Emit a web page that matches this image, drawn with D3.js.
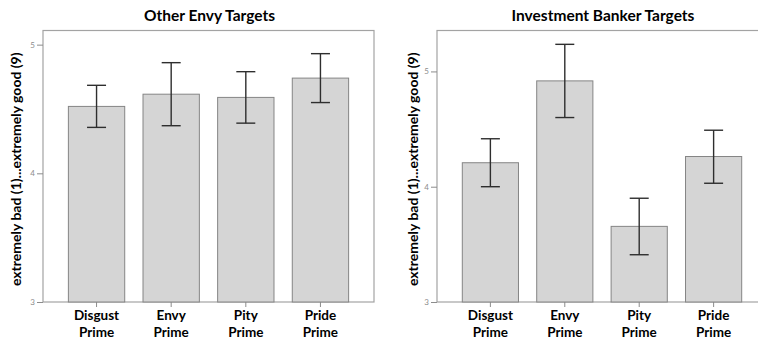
<!DOCTYPE html>
<html>
<head>
<meta charset="utf-8">
<script src="https://cdn.jsdelivr.net/npm/d3@7"></script>
<style>
  body { margin: 0; background: #fff; }
  text { font-family: Lato, "Open Sans", sans-serif; }
</style>
</head>
<body>
<div id="chart"></div>
<script>
let width = 758;
let height = 343;

// data
let primes = ["Disgust Prime", "Envy Prime", "Pity Prime", "Pride Prime"];
let yTicks = [3, 4, 5];

let otherMeans = [4.52, 4.615, 4.59, 4.74];
let otherLow = [4.357, 4.37, 4.39, 4.55];
let otherHigh = [4.684, 4.86, 4.79, 4.93];

let bankerMeans = [4.208, 4.918, 3.656, 4.262];
let bankerLow = [4.0, 4.6, 3.41, 4.03];
let bankerHigh = [4.416, 5.235, 3.90, 4.49];

// Colors
let colorBar = '#d5d5d5';
let colorBarEdge = '#858585';
let colorFrame = '#a3a3a3';
let colorErr = '#2e2e2e';
let colorTick = '#8c8c8c';

let panels = [
    { title: "Other Envy Targets", means: otherMeans, low: otherLow, high: otherHigh,
      x0: 43, x1: 374, yMax: 5.11, labelX: 16 },
    { title: "Investment Banker Targets", means: bankerMeans, low: bankerLow, high: bankerHigh,
      x0: 437, x1: 767, yMax: 5.355, labelX: 413 }
];

let plotTop = 30.5, plotBottom = 302;

let svg = d3.select("#chart")
    .append("svg")
    .attr("width", width)
    .attr("height", height);

panels.forEach(p => {
    let xScale = d3.scaleBand()
        .domain(primes)
        .range([p.x0, p.x1])
        .paddingInner(0.245)
        .paddingOuter(0.34);

    let yScale = d3.scaleLinear()
        .domain([3, p.yMax])
        .range([plotBottom, plotTop]);

    let g = svg.append("g");

    // title
    g.append("text")
        .attr("x", (p.x0 + p.x1) / 2 + 1)
        .attr("y", 21)
        .attr("text-anchor", "middle")
        .style("font-size", "15.5px")
        .style("font-weight", "bold")
        .text(p.title);

    // frame
    g.append("rect")
        .attr("x", p.x0)
        .attr("y", plotTop)
        .attr("width", p.x1 - p.x0)
        .attr("height", plotBottom - plotTop)
        .attr("fill", "none")
        .attr("stroke", colorFrame)
        .attr("stroke-width", 1.2);

    // y axis
    let yAxis = g.append("g")
        .attr("transform", "translate(" + p.x0 + ",0)")
        .call(d3.axisLeft(yScale).tickValues(yTicks).tickSize(6).tickPadding(2).tickFormat(d3.format("d")));
    yAxis.select(".domain").remove();
    yAxis.selectAll("line").attr("stroke", colorTick);
    yAxis.selectAll("text")
        .attr("fill", colorTick)
        .style("font-size", "8px")
        .style("font-family", "Lato, sans-serif");

    // x axis
    let xAxis = g.append("g")
        .attr("transform", "translate(0," + plotBottom + ")")
        .call(d3.axisBottom(xScale).tickSize(5).tickFormat(""));
    xAxis.select(".domain").remove();
    xAxis.selectAll("line").attr("stroke", colorTick);

    primes.forEach(name => {
        let words = name.split(" ");
        let t = g.append("text")
            .attr("x", xScale(name) + xScale.bandwidth() / 2)
            .attr("y", 320)
            .attr("text-anchor", "middle")
            .style("font-size", "13.5px")
            .style("font-weight", "bold");
        words.forEach((w, i) => {
            t.append("tspan")
                .attr("x", xScale(name) + xScale.bandwidth() / 2)
                .attr("dy", i == 0 ? 0 : 17)
                .text(w);
        });
    });

    // y label
    g.append("text")
        .attr("transform", "translate(" + (p.labelX + 5) + "," + ((plotTop + plotBottom) / 2 + 3) + ") rotate(-90)")
        .attr("text-anchor", "middle")
        .style("font-size", "14px")
        .style("font-weight", "bold")
        .text("extremely bad (1)...extremely good (9)");

    // bars
    g.selectAll(".bar")
        .data(primes)
        .enter()
        .append("rect")
        .attr("class", "bar")
        .attr("x", d => xScale(d))
        .attr("y", (d, i) => yScale(p.means[i]))
        .attr("width", xScale.bandwidth())
        .attr("height", (d, i) => plotBottom - yScale(p.means[i]))
        .attr("fill", colorBar)
        .attr("stroke", colorBarEdge)
        .attr("stroke-width", 1);

    // error bars
    let cap = 9.5;
    primes.forEach((name, i) => {
        let cx = xScale(name) + xScale.bandwidth() / 2;
        let eg = g.append("g")
            .attr("stroke", colorErr)
            .attr("stroke-width", 1.4);
        eg.append("line")
            .attr("x1", cx).attr("x2", cx)
            .attr("y1", yScale(p.high[i])).attr("y2", yScale(p.low[i]));
        eg.append("line")
            .attr("x1", cx - cap).attr("x2", cx + cap)
            .attr("y1", yScale(p.high[i])).attr("y2", yScale(p.high[i]));
        eg.append("line")
            .attr("x1", cx - cap).attr("x2", cx + cap)
            .attr("y1", yScale(p.low[i])).attr("y2", yScale(p.low[i]));
    });
});
</script>
</body>
</html>
